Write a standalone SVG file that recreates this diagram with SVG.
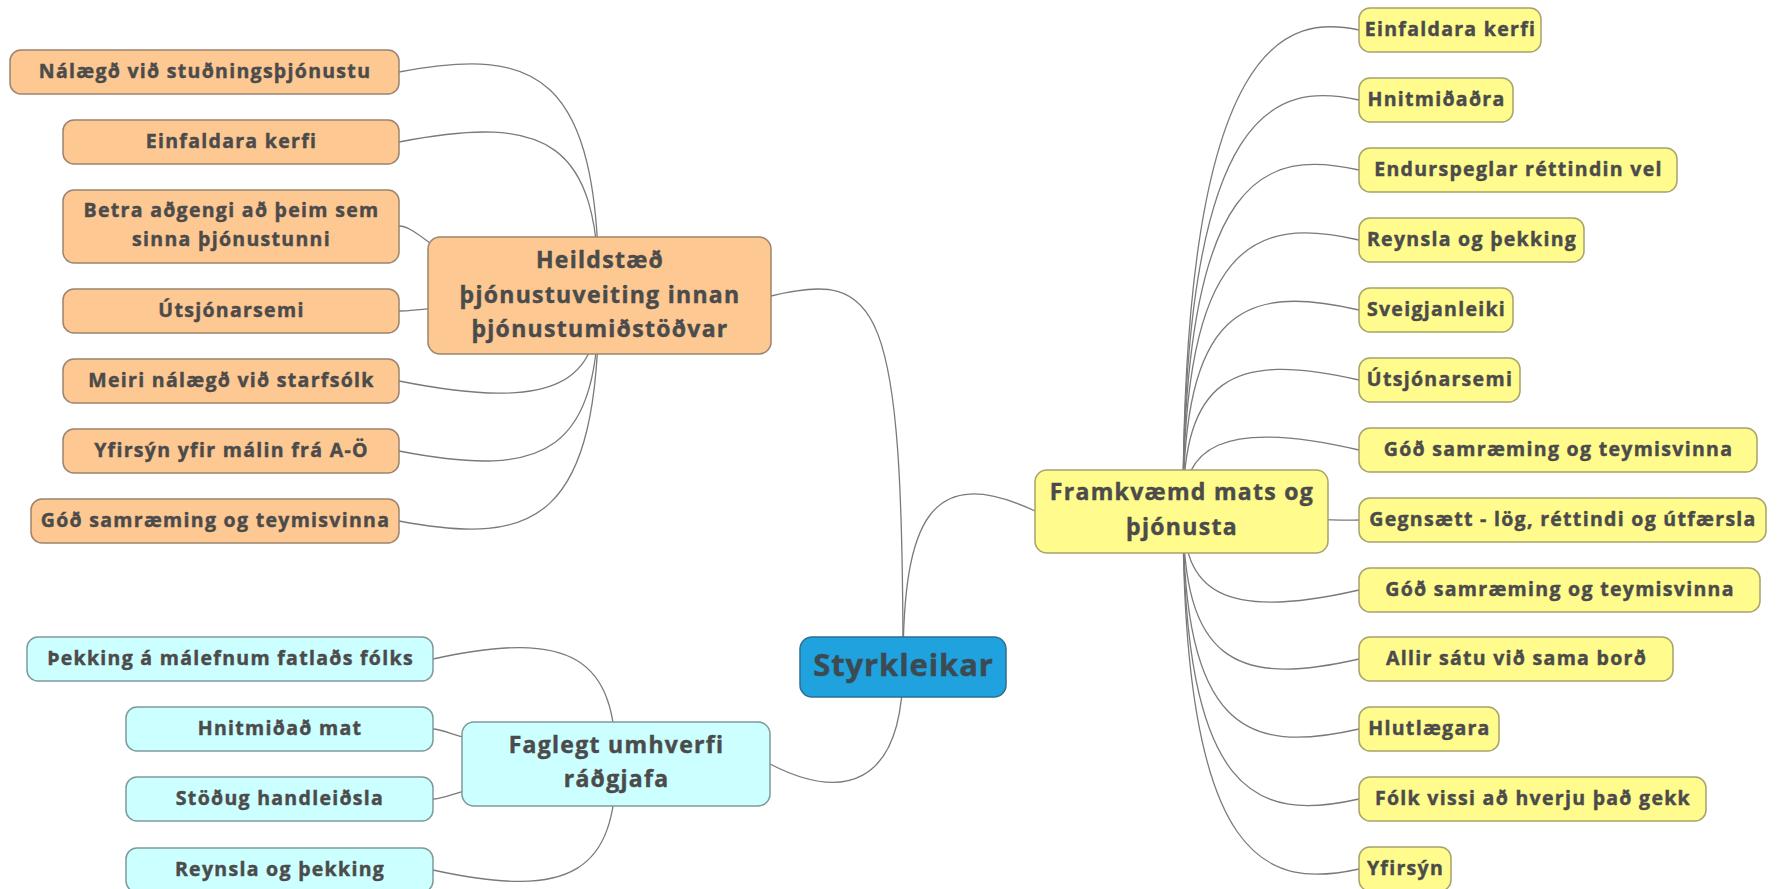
<svg xmlns="http://www.w3.org/2000/svg" width="1778" height="889" viewBox="0 0 1778 889">
<style>
.bg{fill:#ffffff}
.ln{fill:none;stroke:#7a7a7a;stroke-width:1.3}
.or{fill:#fec892;stroke:#9a8470;stroke-width:1.5}
.ye{fill:#fffb8c;stroke:#a6a36c;stroke-width:1.5}
.cy{fill:#ccffff;stroke:#7f9a9a;stroke-width:1.5}
.rt{fill:#1fa2dd;stroke:#2e6f90;stroke-width:1.5}
text{font-family:"Open Sans","Noto Sans","DejaVu Sans",sans-serif;font-weight:700;fill:#4b4b4b;stroke:#4b4b4b;stroke-width:0.45;text-anchor:middle}
.s{font-size:19.5px;letter-spacing:1.3px}
.m{font-size:23px;letter-spacing:1.3px}
.r{font-size:31px;letter-spacing:0.9px;fill:#3c4a52;stroke:#3c4a52}
</style>
<rect class="bg" x="0" y="0" width="1778" height="889"/>
<g id="connectors">
<path class="ln" d="M903,667 C903,300 880,270 771,296"/>
<path class="ln" d="M903,667 C903,520 930,462 1035,511"/>
<path class="ln" d="M903,667 C903,790 840,800 770,764"/>
<path class="ln" d="M599,296 C599,72 536,46 399,72"/>
<path class="ln" d="M599,296 C599,142 548,113 399,142"/>
<path class="ln" d="M399,226 C425,226 460,296 599,296"/>
<path class="ln" d="M399,311 C430,311 500,296 599,296"/>
<path class="ln" d="M599,296 C599,381 560,413 399,381"/>
<path class="ln" d="M599,296 C599,451 548,480 399,451"/>
<path class="ln" d="M599,296 C599,521 536,547 399,521"/>
<path class="ln" d="M616,764 C616,659 573,628 433,659"/>
<path class="ln" d="M433,729 C450,729 470,750 616,764"/>
<path class="ln" d="M433,799 C450,799 470,780 616,764"/>
<path class="ln" d="M616,764 C616,870 573,901 433,870"/>
<path class="ln" d="M1183,511 C1183,30 1290,15 1359,30"/>
<path class="ln" d="M1183,511 C1183,100 1278,82 1359,100"/>
<path class="ln" d="M1183,511 C1183,170 1266,149 1359,170"/>
<path class="ln" d="M1183,511 C1183,240 1254,216 1359,240"/>
<path class="ln" d="M1183,511 C1183,310 1242,283 1359,310"/>
<path class="ln" d="M1183,511 C1183,380 1230,350 1359,380"/>
<path class="ln" d="M1183,511 C1183,450 1218,417 1359,450"/>
<path class="ln" d="M1183,511 C1250,511 1300,522 1359,520"/>
<path class="ln" d="M1183,511 C1183,590 1221,622 1359,590"/>
<path class="ln" d="M1183,511 C1183,659 1233,688 1359,659"/>
<path class="ln" d="M1183,511 C1183,729 1245,755 1359,729"/>
<path class="ln" d="M1183,511 C1183,799 1257,822 1359,799"/>
<path class="ln" d="M1183,511 C1183,869 1269,889 1359,869"/>
</g>
<g id="root"><rect class="rt" x="800" y="637" width="206" height="60" rx="12"/><text class="r" x="903.5" y="676">Styrkleikar</text></g>
<g id="heildstaed"><rect class="or" x="428" y="237" width="343" height="117" rx="12"/><text class="m" x="600" y="268">Heildstæð</text><text class="m" x="600" y="302.5">þjónustuveiting innan</text><text class="m" x="600" y="337">þjónustumiðstöðvar</text></g>
<g id="framkvaemd"><rect class="ye" x="1035" y="470" width="293" height="83" rx="12"/><text class="m" x="1182" y="500">Framkvæmd mats og</text><text class="m" x="1182" y="535">þjónusta</text></g>
<g id="faglegt"><rect class="cy" x="462" y="722" width="308" height="84" rx="12"/><text class="m" x="616.5" y="753">Faglegt umhverfi</text><text class="m" x="616.5" y="787">ráðgjafa</text></g>
<g id="l1"><rect class="or" x="10" y="50" width="389" height="44" rx="11"/><text class="s" x="205" y="78">Nálægð við stuðningsþjónustu</text></g>
<g id="l2"><rect class="or" x="63" y="120" width="336" height="44" rx="11"/><text class="s" x="231.5" y="148">Einfaldara kerfi</text></g>
<g id="l3"><rect class="or" x="63" y="190" width="336" height="73" rx="11"/><text class="s" x="231.5" y="217">Betra aðgengi að þeim sem</text><text class="s" x="231.5" y="246">sinna þjónustunni</text></g>
<g id="l4"><rect class="or" x="63" y="289" width="336" height="44" rx="11"/><text class="s" x="231.5" y="317">Útsjónarsemi</text></g>
<g id="l5"><rect class="or" x="63" y="359" width="336" height="44" rx="11"/><text class="s" x="231.5" y="387">Meiri nálægð við starfsólk</text></g>
<g id="l6"><rect class="or" x="63" y="429" width="336" height="44" rx="11"/><text class="s" x="231.5" y="457">Yfirsýn yfir málin frá A-Ö</text></g>
<g id="l7"><rect class="or" x="31" y="499" width="368" height="44" rx="11"/><text class="s" x="215.5" y="527">Góð samræming og teymisvinna</text></g>
<g id="f1"><rect class="cy" x="27" y="637" width="406" height="44" rx="11"/><text class="s" x="230.5" y="665">Þekking á málefnum fatlaðs fólks</text></g>
<g id="f2"><rect class="cy" x="126" y="707" width="307" height="44" rx="11"/><text class="s" x="280" y="735">Hnitmiðað mat</text></g>
<g id="f3"><rect class="cy" x="126" y="777" width="307" height="44" rx="11"/><text class="s" x="280" y="805">Stöðug handleiðsla</text></g>
<g id="f4"><rect class="cy" x="126" y="848" width="307" height="44" rx="11"/><text class="s" x="280" y="876">Reynsla og þekking</text></g>
<g id="r1"><rect class="ye" x="1359" y="8" width="182" height="44" rx="11"/><text class="s" x="1450.5" y="36">Einfaldara kerfi</text></g>
<g id="r2"><rect class="ye" x="1359" y="78" width="154" height="44" rx="11"/><text class="s" x="1436.5" y="106">Hnitmiðaðra</text></g>
<g id="r3"><rect class="ye" x="1359" y="148" width="318" height="44" rx="11"/><text class="s" x="1518.5" y="176">Endurspeglar réttindin vel</text></g>
<g id="r4"><rect class="ye" x="1359" y="218" width="225" height="44" rx="11"/><text class="s" x="1472" y="246">Reynsla og þekking</text></g>
<g id="r5"><rect class="ye" x="1359" y="288" width="154" height="44" rx="11"/><text class="s" x="1436.5" y="316">Sveigjanleiki</text></g>
<g id="r6"><rect class="ye" x="1359" y="358" width="161" height="44" rx="11"/><text class="s" x="1440" y="386">Útsjónarsemi</text></g>
<g id="r7"><rect class="ye" x="1359" y="428" width="398" height="44" rx="11"/><text class="s" x="1558.5" y="456">Góð samræming og teymisvinna</text></g>
<g id="r8"><rect class="ye" x="1359" y="498" width="407" height="44" rx="11"/><text class="s" x="1563" y="526">Gegnsætt - lög, réttindi og útfærsla</text></g>
<g id="r9"><rect class="ye" x="1359" y="568" width="401" height="44" rx="11"/><text class="s" x="1560" y="596">Góð samræming og teymisvinna</text></g>
<g id="r10"><rect class="ye" x="1359" y="637" width="314" height="44" rx="11"/><text class="s" x="1516.5" y="665">Allir sátu við sama borð</text></g>
<g id="r11"><rect class="ye" x="1359" y="707" width="140" height="44" rx="11"/><text class="s" x="1429.5" y="735">Hlutlægara</text></g>
<g id="r12"><rect class="ye" x="1359" y="777" width="347" height="44" rx="11"/><text class="s" x="1533" y="805">Fólk vissi að hverju það gekk</text></g>
<g id="r13"><rect class="ye" x="1359" y="847" width="92" height="44" rx="11"/><text class="s" x="1405.5" y="875">Yfirsýn</text></g>
</svg>
